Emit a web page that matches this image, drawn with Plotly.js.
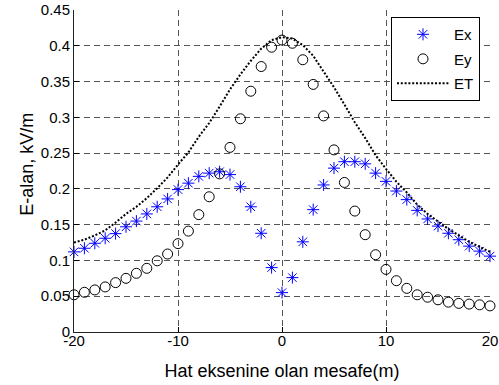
<!DOCTYPE html>
<html>
<head>
<meta charset="utf-8">
<script src="https://cdn.plot.ly/plotly-3.0.1.min.js"></script>
<style>html,body{margin:0;padding:0;background:#fff;}#chart{width:499px;height:385px;}</style>
</head>
<body>
<div id="chart"></div>
<script>
// Distance from line axis (m)
const distance = [-20,-19,-18,-17,-16,-15,-14,-13,-12,-11,-10,-9,-8,-7,-6,-5,-4,-3,-2,-1,0,1,2,3,4,5,6,7,8,9,10,11,12,13,14,15,16,17,18,19,20];
// Ex (kV/m)
const ex = [0.112,0.117,0.124,0.131,0.1375,0.147,0.155,0.165,0.175,0.186,0.199,0.208,0.2175,0.222,0.224,0.220,0.203,0.175,0.138,0.090,0.055,0.076,0.126,0.171,0.2055,0.229,0.238,0.238,0.235,0.222,0.2105,0.197,0.185,0.170,0.158,0.148,0.138,0.129,0.120,0.113,0.106];
// Ey (kV/m)
const ey = [0.052,0.0555,0.0588,0.063,0.069,0.075,0.082,0.089,0.0995,0.109,0.1235,0.141,0.164,0.189,0.221,0.258,0.298,0.3365,0.371,0.398,0.408,0.4035,0.3805,0.346,0.302,0.2545,0.209,0.169,0.136,0.108,0.0875,0.0717,0.061,0.052,0.0486,0.045,0.0417,0.040,0.039,0.038,0.0365];
// ET (kV/m)
const et = [0.125,0.129,0.135,0.142,0.153,0.165,0.175,0.187,0.201,0.216,0.234,0.251,0.273,0.292,0.315,0.339,0.360,0.379,0.396,0.408,0.412,0.410,0.401,0.386,0.364,0.342,0.318,0.293,0.271,0.247,0.228,0.210,0.195,0.178,0.165,0.154,0.144,0.135,0.126,0.119,0.112];
const xTicks = [-20,-10,0,10,20];
const yTicks = [0,0.05,0.1,0.15,0.2,0.25,0.3,0.35,0.4,0.45];
const yTickText = ['0','0.05','0.1','0.15','0.2','0.25','0.3','0.35','0.4','0.45'];
const yTitle = 'E-alan, kV/m';
const xTitle = 'Hat eksenine olan mesafe(m)';

const font = 'Liberation Sans, Arial, Helvetica, sans-serif';

const traces = [
  {x: distance, y: ex, name: 'Ex', mode: 'markers', type: 'scatter', cliponaxis: false, legendgroup: 'a',
   marker: {symbol: 'asterisk-open', size: 10, color: '#0000ff', line: {color: '#0000ff', width: 1}}},
  {x: distance, y: ey, name: 'Ey', mode: 'markers', type: 'scatter', cliponaxis: false, legendgroup: 'b',
   marker: {symbol: 'circle-open', size: 10, color: '#000000', line: {color: '#000000', width: 1}}},
  {x: distance, y: et, name: 'ET', mode: 'lines', type: 'scatter', legendgroup: 'c',
   line: {color: '#000000', width: 2, dash: '2px,1.8px'}}
];

const layout = {
  width: 499, height: 385,
  margin: {l: 74, r: 9, t: 10, b: 53},
  paper_bgcolor: '#ffffff', plot_bgcolor: '#ffffff',
  font: {family: font, size: 15, color: '#000'},
  showlegend: true,
  legend: {x: 0.762, y: 0.978, xanchor: 'left', yanchor: 'top', bgcolor: '#ffffff',
           bordercolor: '#000000', borderwidth: 1, font: {family: font, size: 15, color: '#000'},
           itemwidth: 52, traceorder: 'grouped', tracegroupgap: 2},
  xaxis: {range: [-20, 20], tickvals: xTicks, ticktext: xTicks.map(String), ticks: 'inside', ticklen: 5,
          tickcolor: '#000', showline: true, linecolor: '#222', linewidth: 1, mirror: false,
          showgrid: true, gridcolor: '#555', griddash: '6px,4px', gridwidth: 1, zeroline: false,
          ticklabelstandoff: -5,
          tickfont: {family: font, size: 15, color: '#000'},
          title: {text: xTitle, font: {family: font, size: 18, color: '#000'}, standoff: 16}},
  yaxis: {range: [0, 0.45], tickvals: yTicks, ticktext: yTickText, ticks: 'inside', ticklen: 5,
          tickcolor: '#000', showline: true, linecolor: '#222', linewidth: 1, mirror: false,
          showgrid: true, gridcolor: '#555', griddash: '6px,4px', gridwidth: 1, zeroline: false,
          tickfont: {family: font, size: 15, color: '#000'}},
  annotations: [
    {text: yTitle, xref: 'paper', yref: 'paper', x: -0.115, y: 0.52, xanchor: 'center', yanchor: 'middle',
     textangle: -90, showarrow: false, font: {family: font, size: 18, color: '#000'}}
  ]
};

Plotly.newPlot('chart', traces, layout, {displayModeBar: false, staticPlot: true});
</script>
</body>
</html>
